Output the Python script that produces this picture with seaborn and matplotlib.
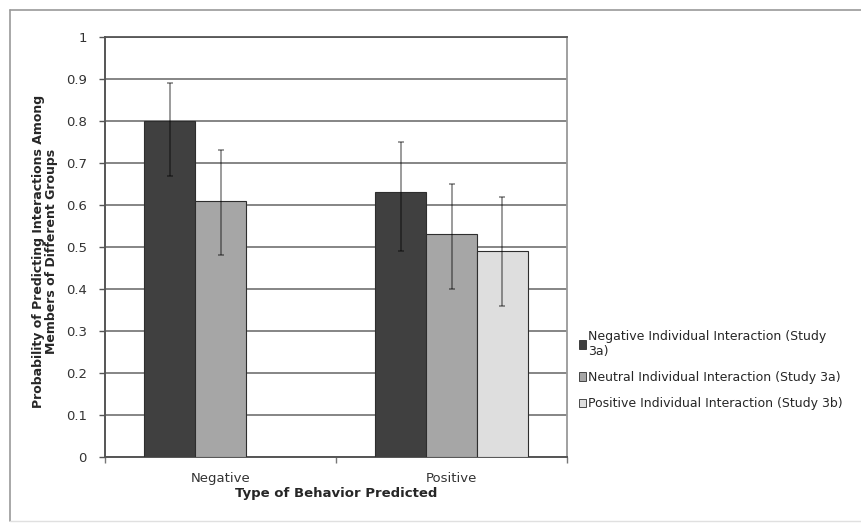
import numpy as np
import pandas as pd
import matplotlib
matplotlib.use("Agg")
import matplotlib.pyplot as plt
import seaborn as sns
from matplotlib.lines import Line2D

# values
categories = ["Negative", "Positive"]
series_names = [
    "Negative Individual Interaction (Study 3a)",
    "Neutral Individual Interaction (Study 3a)",
    "Positive Individual Interaction (Study 3b)",
]
neg_interaction = [0.80, 0.63]
neu_interaction = [0.61, 0.53]
pos_interaction = [np.nan, 0.49]

neg_err_low = [0.67, 0.49]
neg_err_high = [0.89, 0.75]
neu_err_low = [0.48, 0.40]
neu_err_high = [0.73, 0.65]
pos_err_low = [np.nan, 0.36]
pos_err_high = [np.nan, 0.62]

colors = ["#404040", "#a6a6a6", "#dedede"]

rows = []
for name, vals, lo, hi in zip(series_names,
                              [neg_interaction, neu_interaction, pos_interaction],
                              [neg_err_low, neu_err_low, pos_err_low],
                              [neg_err_high, neu_err_high, pos_err_high]):
    for cat, v, l, h in zip(categories, vals, lo, hi):
        if not np.isnan(v):
            rows.append({"behavior": cat, "series": name, "prob": v, "low": l, "high": h})
df = pd.DataFrame(rows)

sns.set_style("white")
plt.rcParams["font.family"] = ["DejaVu Sans"]

fig = plt.figure(figsize=(8.62, 5.23), dpi=100)
ax = fig.add_axes([105 / 862, 1 - 457 / 523, 462 / 862, 420 / 523])

sns.barplot(data=df, x="behavior", y="prob", hue="series",
            order=categories, hue_order=series_names, palette=colors,
            width=0.66, errorbar=None, edgecolor="#2e2e2e", linewidth=0.8,
            saturation=1, ax=ax, zorder=3)

# error bars at the centres of the bars seaborn drew
for name, cont in zip(series_names, ax.containers):
    sub = df[df["series"] == name].set_index("behavior")
    for bar in cont:
        xc = bar.get_x() + bar.get_width() / 2
        cat = categories[int(round(xc))]
        r = sub.loc[cat]
        ax.errorbar(xc, r["prob"], yerr=[[r["prob"] - r["low"]], [r["high"] - r["prob"]]],
                    fmt="none", ecolor="black", alpha=0.5, elinewidth=1.1,
                    capsize=2.2, capthick=1.1, zorder=4)

ax.set_ylim(0, 1)
ax.set_xlim(-0.5, 1.5)
ax.set_yticks(np.arange(0, 1.01, 0.1))
ax.set_yticklabels(["0", "0.1", "0.2", "0.3", "0.4", "0.5", "0.6", "0.7", "0.8", "0.9", "1"])
ax.yaxis.grid(True, color="#858585", linewidth=1.4, zorder=0)
ax.set_axisbelow(True)

ax.tick_params(axis="y", which="major", direction="out", length=4, width=1,
               color="#555555", labelsize=9.5, labelcolor="#333333", left=True, pad=9)
ax.tick_params(axis="x", which="major", length=0, labelsize=9.5, labelcolor="#333333", pad=11)
ax.set_xticks([-0.5, 0.5, 1.5], minor=True)
ax.tick_params(axis="x", which="minor", direction="out", length=4, width=1,
               color="#777777", bottom=True)

for side in ["left", "bottom"]:
    ax.spines[side].set_color("#555555")
    ax.spines[side].set_linewidth(1.4)
ax.spines["top"].set_color("#555555")
ax.spines["top"].set_linewidth(1.3)
ax.spines["right"].set_color("#999999")
ax.spines["right"].set_linewidth(1.3)

ax.set_xlabel("Type of Behavior Predicted", fontsize=9.5, fontweight="bold", labelpad=1)
ax.set_ylabel("Probability of Predicting Interactions Among\nMembers of Different Groups",
              fontsize=9, fontweight="bold", linespacing=1.0)
ax.yaxis.set_label_coords(-0.102, 0.49)

old = ax.get_legend()
handles = old.legend_handles
for h, c in zip(handles, colors):
    h.set_facecolor(c)
    h.set_edgecolor("#2e2e2e")
    h.set_linewidth(0.6)
labels = ["Negative Individual Interaction (Study\n3a)",
          "Neutral Individual Interaction (Study 3a)",
          "Positive Individual Interaction (Study 3b)"]
ax.legend(handles, labels, loc="center left", bbox_to_anchor=(579 / 862, 1 - 370 / 523),
          bbox_transform=fig.transFigure, frameon=False, fontsize=9.0,
          handlelength=0.55, handleheight=0.65, handletextpad=0.2,
          labelspacing=1.05, borderpad=0, borderaxespad=0)

# outer frame of the exported chart
fig.add_artist(Line2D([10 / 862, 10 / 862], [2 / 523, 1 - 10 / 523], transform=fig.transFigure,
                      color="#9a9a9a", linewidth=1.2))
fig.add_artist(Line2D([10 / 862, 1.0], [1 - 10 / 523, 1 - 10 / 523], transform=fig.transFigure,
                      color="#9a9a9a", linewidth=1.2))
fig.add_artist(Line2D([10 / 862, 1.0], [2 / 523, 2 / 523], transform=fig.transFigure,
                      color="#e0e0e0", linewidth=1.0))

fig.savefig("out.png", dpi=100)
